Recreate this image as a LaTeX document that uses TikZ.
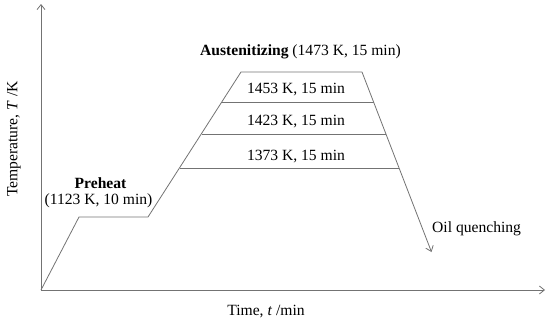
\documentclass[tikz,border=0pt]{standalone}
\usepackage{fontspec}
\setmainfont{Liberation Serif}
\usetikzlibrary{arrows.meta}
\begin{document}
\begin{tikzpicture}[x=1pt,y=-1pt,
  ln/.style={draw=black!55,line width=0.8pt},
  arr/.style={ln,-{Straight Barb[length=5pt,width=8pt]}},
  lbl/.style={inner sep=0pt,font=\fontsize{15.6}{18}\selectfont}]
\useasboundingbox (0,0) rectangle (550,324);
\coordinate (O) at (41,290);
\coordinate (ytop) at (41,4);
\coordinate (xend) at (545,290);
\coordinate (p1) at (79,217);
\coordinate (p2) at (148,217);
\coordinate (a1) at (241,72);
\coordinate (a2) at (362,72);
\coordinate (q) at (431.5,252);
\coordinate (l1a) at (222,102);
\coordinate (l1b) at (373.5,102);
\coordinate (l2a) at (201.5,134);
\coordinate (l2b) at (386,134);
\coordinate (l3a) at (179.5,168);
\coordinate (l3b) at (399,168);
\draw[arr] (O) -- (ytop);
\draw[arr] (O) -- (xend);
\draw[ln] (O) -- (p1) -- (p2) -- (a1) -- (a2);
\draw[arr] (a2) -- (q);
\draw[ln] (l1a) -- (l1b);
\draw[ln] (l2a) -- (l2b);
\draw[ln] (l3a) -- (l3b);
\node[lbl] (pre) at (100.5,183) {\textbf{Preheat}};
\node[lbl] (pret) at (98.5,201) {(1123 K, 10 min)};
\node[lbl] (aus) at (300.5,52) {\textbf{Austenitizing} (1473 K, 15 min)};
\node[lbl] (t1) at (296,90) {1453 K, 15 min};
\node[lbl] (t2) at (296,122) {1423 K, 15 min};
\node[lbl] (t3) at (296,157) {1373 K, 15 min};
\node[lbl,anchor=west] (oil) at (432,229) {Oil quenching};
\node[lbl,rotate=90] (ylab) at (14,139) {Temperature, \textit{T} /K};
\node[lbl] (xlab) at (266,312) {Time, \textit{t} /min};
\end{tikzpicture}
\end{document}
